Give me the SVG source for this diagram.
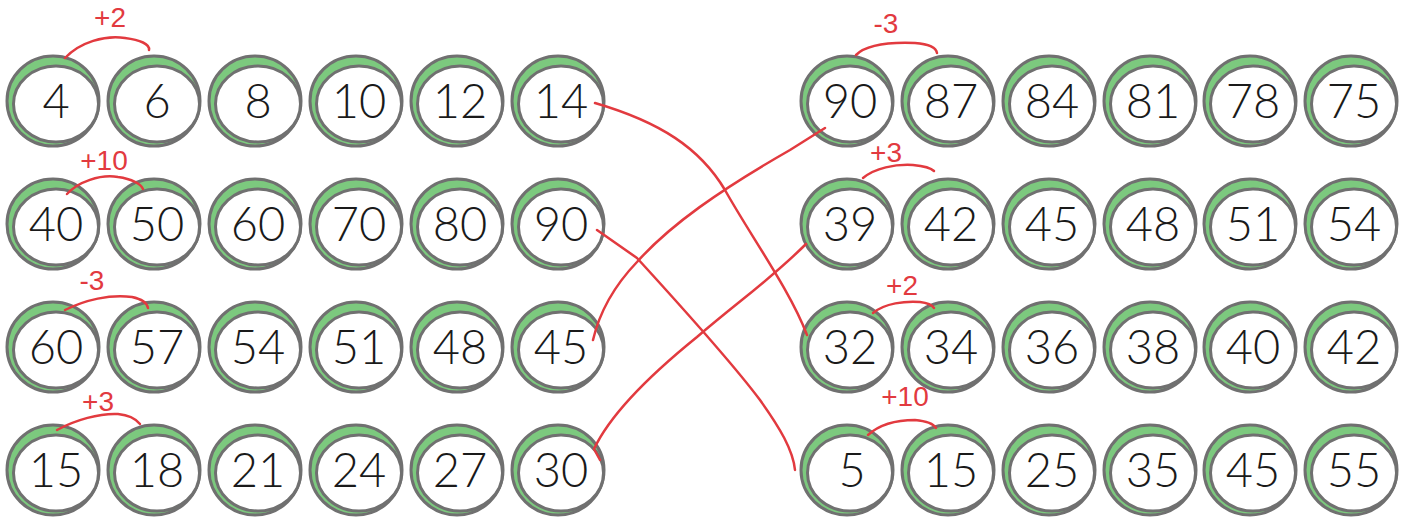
<svg xmlns="http://www.w3.org/2000/svg" xmlns:xlink="http://www.w3.org/1999/xlink" width="1406" height="517" viewBox="0 0 1406 517">
<style>
.o{fill:#7cc97e;stroke:#707070;stroke-width:3}
.i{fill:#fff;stroke:#707070;stroke-width:3}
.n{font-family:Lato,"Liberation Sans",sans-serif;font-weight:300;font-size:47px;fill:#1a1a1a;text-anchor:middle}
.red{fill:none;stroke:#e23a3f;stroke-width:2.5;stroke-linecap:round;stroke-linejoin:round}
.ann{font-family:"Liberation Sans",sans-serif;font-size:28px;fill:#e23a3f;text-anchor:middle}
</style>
<defs>
<g id="bub">
<ellipse class="o" cx="0" cy="0" rx="46" ry="45"/>
<ellipse class="i" cx="3" cy="3" rx="42.5" ry="38"/>
</g>
</defs>
<rect width="1406" height="517" fill="#fff"/>

<g id="left-nodes">
<g id="L11" transform="translate(53,101)"><use href="#bub"/><text class="n" x="3" y="17">4</text></g>
<g id="L12" transform="translate(154,101)"><use href="#bub"/><text class="n" x="3" y="17">6</text></g>
<g id="L13" transform="translate(255,101)"><use href="#bub"/><text class="n" x="3" y="17">8</text></g>
<g id="L14" transform="translate(356,101)"><use href="#bub"/><text class="n" x="3" y="17">10</text></g>
<g id="L15" transform="translate(457,101)"><use href="#bub"/><text class="n" x="3" y="17">12</text></g>
<g id="L16" transform="translate(558,101)"><use href="#bub"/><text class="n" x="3" y="17">14</text></g>

<g id="L21" transform="translate(53,224)"><use href="#bub"/><text class="n" x="3" y="17">40</text></g>
<g id="L22" transform="translate(154,224)"><use href="#bub"/><text class="n" x="3" y="17">50</text></g>
<g id="L23" transform="translate(255,224)"><use href="#bub"/><text class="n" x="3" y="17">60</text></g>
<g id="L24" transform="translate(356,224)"><use href="#bub"/><text class="n" x="3" y="17">70</text></g>
<g id="L25" transform="translate(457,224)"><use href="#bub"/><text class="n" x="3" y="17">80</text></g>
<g id="L26" transform="translate(558,224)"><use href="#bub"/><text class="n" x="3" y="17">90</text></g>

<g id="L31" transform="translate(53,347)"><use href="#bub"/><text class="n" x="3" y="17">60</text></g>
<g id="L32" transform="translate(154,347)"><use href="#bub"/><text class="n" x="3" y="17">57</text></g>
<g id="L33" transform="translate(255,347)"><use href="#bub"/><text class="n" x="3" y="17">54</text></g>
<g id="L34" transform="translate(356,347)"><use href="#bub"/><text class="n" x="3" y="17">51</text></g>
<g id="L35" transform="translate(457,347)"><use href="#bub"/><text class="n" x="3" y="17">48</text></g>
<g id="L36" transform="translate(558,347)"><use href="#bub"/><text class="n" x="3" y="17">45</text></g>

<g id="L41" transform="translate(53,470)"><use href="#bub"/><text class="n" x="3" y="17">15</text></g>
<g id="L42" transform="translate(154,470)"><use href="#bub"/><text class="n" x="3" y="17">18</text></g>
<g id="L43" transform="translate(255,470)"><use href="#bub"/><text class="n" x="3" y="17">21</text></g>
<g id="L44" transform="translate(356,470)"><use href="#bub"/><text class="n" x="3" y="17">24</text></g>
<g id="L45" transform="translate(457,470)"><use href="#bub"/><text class="n" x="3" y="17">27</text></g>
<g id="L46" transform="translate(558,470)"><use href="#bub"/><text class="n" x="3" y="17">30</text></g>
</g>

<g id="right-nodes">
<g id="R11" transform="translate(847,101)"><use href="#bub"/><text class="n" x="3" y="17">90</text></g>
<g id="R12" transform="translate(948,101)"><use href="#bub"/><text class="n" x="3" y="17">87</text></g>
<g id="R13" transform="translate(1049,101)"><use href="#bub"/><text class="n" x="3" y="17">84</text></g>
<g id="R14" transform="translate(1150,101)"><use href="#bub"/><text class="n" x="3" y="17">81</text></g>
<g id="R15" transform="translate(1250,101)"><use href="#bub"/><text class="n" x="3" y="17">78</text></g>
<g id="R16" transform="translate(1351,101)"><use href="#bub"/><text class="n" x="3" y="17">75</text></g>

<g id="R21" transform="translate(847,224)"><use href="#bub"/><text class="n" x="3" y="17">39</text></g>
<g id="R22" transform="translate(948,224)"><use href="#bub"/><text class="n" x="3" y="17">42</text></g>
<g id="R23" transform="translate(1049,224)"><use href="#bub"/><text class="n" x="3" y="17">45</text></g>
<g id="R24" transform="translate(1150,224)"><use href="#bub"/><text class="n" x="3" y="17">48</text></g>
<g id="R25" transform="translate(1250,224)"><use href="#bub"/><text class="n" x="3" y="17">51</text></g>
<g id="R26" transform="translate(1351,224)"><use href="#bub"/><text class="n" x="3" y="17">54</text></g>

<g id="R31" transform="translate(847,347)"><use href="#bub"/><text class="n" x="3" y="17">32</text></g>
<g id="R32" transform="translate(948,347)"><use href="#bub"/><text class="n" x="3" y="17">34</text></g>
<g id="R33" transform="translate(1049,347)"><use href="#bub"/><text class="n" x="3" y="17">36</text></g>
<g id="R34" transform="translate(1150,347)"><use href="#bub"/><text class="n" x="3" y="17">38</text></g>
<g id="R35" transform="translate(1250,347)"><use href="#bub"/><text class="n" x="3" y="17">40</text></g>
<g id="R36" transform="translate(1351,347)"><use href="#bub"/><text class="n" x="3" y="17">42</text></g>

<g id="R41" transform="translate(847,470)"><use href="#bub"/><text class="n" x="5" y="17">5</text></g>
<g id="R42" transform="translate(948,470)"><use href="#bub"/><text class="n" x="3" y="17">15</text></g>
<g id="R43" transform="translate(1049,470)"><use href="#bub"/><text class="n" x="3" y="17">25</text></g>
<g id="R44" transform="translate(1150,470)"><use href="#bub"/><text class="n" x="3" y="17">35</text></g>
<g id="R45" transform="translate(1250,470)"><use href="#bub"/><text class="n" x="3" y="17">45</text></g>
<g id="R46" transform="translate(1351,470)"><use href="#bub"/><text class="n" x="3" y="17">55</text></g>
</g>

<g id="annotations">
<path class="red" d="M65,58 C80,42 105,35 125,38 C140,40 150,44 149,50"/>
<text class="ann" x="110" y="27" font-size="32">+2</text>
<path class="red" d="M67,194 C78,182 100,174 118,177 C132,179 141,184 143,189"/>
<text class="ann" x="104" y="170">+10</text>
<path class="red" d="M65,310 C85,300 110,294 132,297 C142,299 147,303 148,308"/>
<text class="ann" x="92" y="290">-3</text>
<path class="red" d="M57,430 C75,420 100,413 118,414 C128,415 136,419 140,424"/>
<text class="ann" x="98" y="411">+3</text>
<path class="red" d="M856,55 C866,45 890,42 915,43 C928,44 936,47 937,53"/>
<text class="ann" x="886" y="33">-3</text>
<path class="red" d="M863,178 C875,168 895,164 913,165 C924,166 931,168 934,171"/>
<text class="ann" x="886" y="162">+3</text>
<path class="red" d="M873,313 C885,303 905,301 920,302 C928,303 932,305 934,308"/>
<text class="ann" x="902" y="295">+2</text>
<path class="red" d="M868,435 C880,424 898,420 915,420 C926,421 933,423 936,428"/>
<text class="ann" x="905" y="406" font-size="22">+10</text>
</g>

<g id="connectors">
<path class="red" d="M595,103 C660,122 700,148 725,190 C750,235 790,290 807,335"/>
<path class="red" d="M597,230 L637,258 C680,305 730,360 760,400 C780,428 793,450 795,470"/>
<path class="red" d="M593,340 C600,310 615,285 637,262 C670,225 720,190 790,150 L825,128"/>
<path class="red" d="M600,460 L594,449 C610,415 650,375 697,337 C740,300 770,280 806,244"/>
</g>
</svg>
